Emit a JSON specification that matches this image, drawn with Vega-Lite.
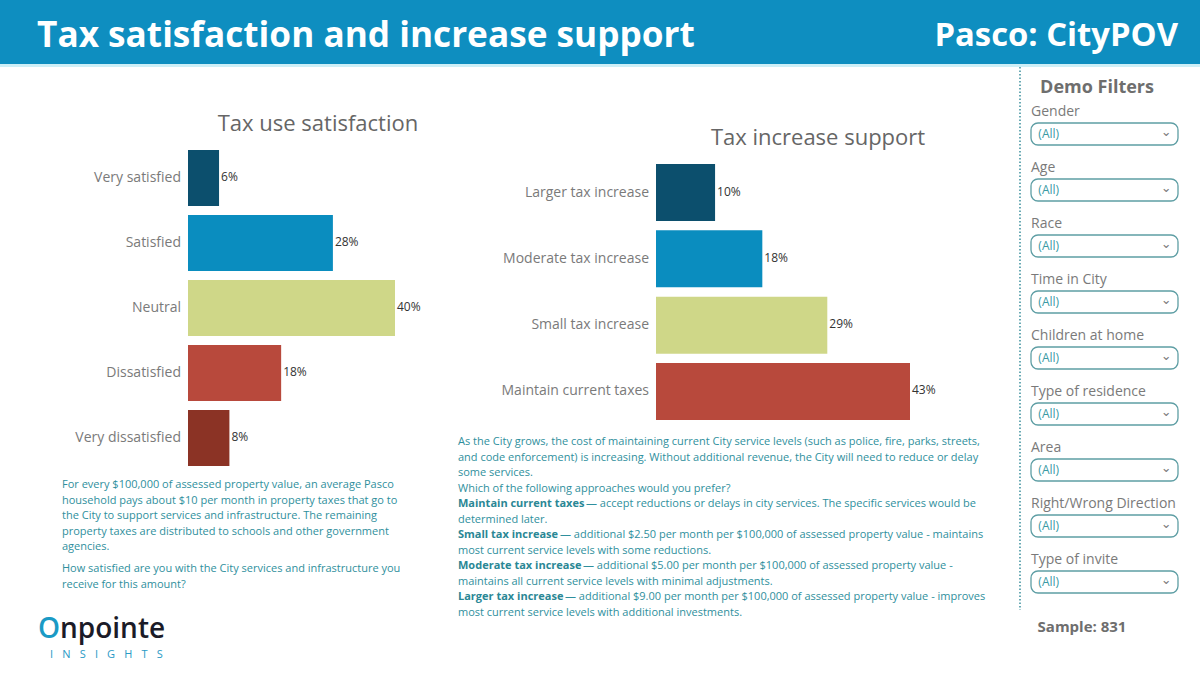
{
  "$schema": "https://vega.github.io/schema/vega-lite/v6.json",
  "width": 1200,
  "height": 674,
  "autosize": "none",
  "padding": 0,
  "background": "white",
  "config": {"view": {"stroke": null}, "font": "Open Sans", "text": {"font": "Open Sans"}},
  "resolve": {"scale": {"x": "independent", "y": "independent", "color": "independent"}},
  "layer": [
    {
      "data": {"values": [{"band": "header"}]},
      "mark": {"type": "rect", "color": "#0e8ec0"},
      "encoding": {"y": {"field": "band", "type": "nominal", "scale": {"range": [0, 64], "paddingInner": 0, "paddingOuter": 0}, "axis": null}}
    },
    {
      "data": {"values": [{"band": "underline"}]},
      "mark": {"type": "rect", "color": "#cdeff7"},
      "encoding": {"y": {"field": "band", "type": "nominal", "scale": {"range": [64, 67], "paddingInner": 0, "paddingOuter": 0}, "axis": null}}
    },
    {
      "data": {"values": [{"side": "left", "label": "Tax satisfaction and increase support"}]},
      "mark": {"type": "text", "color": "white", "fontWeight": "bold", "fontSize": 35.2, "align": "left", "baseline": "alphabetic"},
      "encoding": {
        "x": {"field": "side", "type": "nominal", "scale": {"type": "point", "range": [37, 37], "padding": 0}, "axis": null},
        "y": {"field": "side", "type": "nominal", "scale": {"type": "point", "range": [47, 47], "padding": 0}, "axis": null},
        "text": {"field": "label"}
      }
    },
    {
      "data": {"values": [{"side": "right", "label": "Pasco: CityPOV"}]},
      "mark": {"type": "text", "color": "white", "fontWeight": "bold", "fontSize": 32.8, "align": "right", "baseline": "alphabetic"},
      "encoding": {
        "x": {"field": "side", "type": "nominal", "scale": {"type": "point", "range": [1178, 1178], "padding": 0}, "axis": null},
        "y": {"field": "side", "type": "nominal", "scale": {"type": "point", "range": [46, 46], "padding": 0}, "axis": null},
        "text": {"field": "label"}
      }
    },
    {
      "data": {"values": [{"chart": "Tax use satisfaction"}, {"chart": "Tax increase support"}]},
      "mark": {"type": "text", "color": "#666666", "fontSize": 22, "align": "center", "baseline": "alphabetic"},
      "encoding": {
        "x": {"field": "chart", "type": "nominal", "sort": null, "scale": {"type": "point", "range": [318, 818], "padding": 0}, "axis": null},
        "y": {"field": "chart", "type": "nominal", "sort": null, "scale": {"type": "point", "range": [131, 145], "padding": 0}, "axis": null},
        "text": {"field": "chart"}
      }
    },
    {
      "data": {"values": [
        {"rating": "Very satisfied", "share": 0.06},
        {"rating": "Satisfied", "share": 0.28},
        {"rating": "Neutral", "share": 0.40},
        {"rating": "Dissatisfied", "share": 0.18},
        {"rating": "Very dissatisfied", "share": 0.08}
      ]},
      "encoding": {
        "y": {"field": "rating", "type": "nominal", "sort": null, "scale": {"range": [145.5, 470.5], "paddingInner": 0.14, "paddingOuter": 0.07}, "axis": null}
      },
      "layer": [
        {
          "mark": {"type": "bar"},
          "encoding": {
            "x": {"field": "share", "type": "quantitative", "scale": {"domain": [0, 0.4], "range": [188, 395], "nice": false}, "axis": null},
            "color": {"field": "rating", "type": "nominal", "scale": {"domain": ["Very satisfied", "Satisfied", "Neutral", "Dissatisfied", "Very dissatisfied"], "range": ["#0c4f6d", "#0a8dbf", "#cfd788", "#b8493c", "#8b3325"]}, "legend": null}
          }
        },
        {
          "mark": {"type": "text", "align": "left", "dx": 2, "dy": -1, "fontSize": 12, "color": "#333333", "baseline": "middle"},
          "encoding": {
            "x": {"field": "share", "type": "quantitative"},
            "text": {"field": "share", "type": "quantitative", "format": ".0%"}
          }
        },
        {
          "mark": {"type": "text", "align": "right", "dx": -7, "fontSize": 14, "color": "#7a7a7a", "baseline": "middle"},
          "encoding": {
            "x": {"datum": 0, "type": "quantitative"},
            "text": {"field": "rating"}
          }
        }
      ]
    },
    {
      "data": {"values": [
        {"approach": "Larger tax increase", "share": 0.10},
        {"approach": "Moderate tax increase", "share": 0.18},
        {"approach": "Small tax increase", "share": 0.29},
        {"approach": "Maintain current taxes", "share": 0.43}
      ]},
      "encoding": {
        "y": {"field": "approach", "type": "nominal", "sort": null, "scale": {"range": [159.4, 424.6], "paddingInner": 0.14, "paddingOuter": 0.07}, "axis": null}
      },
      "layer": [
        {
          "mark": {"type": "bar"},
          "encoding": {
            "x": {"field": "share", "type": "quantitative", "scale": {"domain": [0, 0.43], "range": [656, 910], "nice": false}, "axis": null},
            "color": {"field": "approach", "type": "nominal", "scale": {"domain": ["Larger tax increase", "Moderate tax increase", "Small tax increase", "Maintain current taxes"], "range": ["#0c4f6d", "#0a8dbf", "#cfd788", "#b8493c"]}, "legend": null}
          }
        },
        {
          "mark": {"type": "text", "align": "left", "dx": 2, "dy": -1, "fontSize": 12, "color": "#333333", "baseline": "middle"},
          "encoding": {
            "x": {"field": "share", "type": "quantitative"},
            "text": {"field": "share", "type": "quantitative", "format": ".0%"}
          }
        },
        {
          "mark": {"type": "text", "align": "right", "dx": -7, "fontSize": 14, "color": "#7a7a7a", "baseline": "middle"},
          "encoding": {
            "x": {"datum": 0, "type": "quantitative"},
            "text": {"field": "approach"}
          }
        }
      ]
    },
    {
      "data": {"values": [
        {"chart": "Tax use satisfaction", "line": 1, "text": "For every $100,000 of assessed property value, an average Pasco"},
        {"chart": "Tax use satisfaction", "line": 2, "text": "household pays about $10 per month in property taxes that go to"},
        {"chart": "Tax use satisfaction", "line": 3, "text": "the City to support services and infrastructure. The remaining"},
        {"chart": "Tax use satisfaction", "line": 4, "text": "property taxes are distributed to schools and other government"},
        {"chart": "Tax use satisfaction", "line": 5, "text": "agencies."}
      ]},
      "mark": {"type": "text", "align": "left", "baseline": "middle", "fontSize": 11, "color": "#2f8f9d"},
      "encoding": {
        "x": {"field": "chart", "type": "nominal", "scale": {"type": "point", "range": [62, 62], "padding": 0}, "axis": null},
        "y": {"field": "line", "type": "ordinal", "scale": {"type": "point", "range": [485, 547], "padding": 0}, "axis": null},
        "text": {"field": "text"}
      }
    },
    {
      "data": {"values": [
        {"chart": "Tax use satisfaction", "line": 1, "text": "How satisfied are you with the City services and infrastructure you"},
        {"chart": "Tax use satisfaction", "line": 2, "text": "receive for this amount?"}
      ]},
      "mark": {"type": "text", "align": "left", "baseline": "middle", "fontSize": 11, "color": "#2f8f9d"},
      "encoding": {
        "x": {"field": "chart", "type": "nominal", "scale": {"type": "point", "range": [62, 62], "padding": 0}, "axis": null},
        "y": {"field": "line", "type": "ordinal", "scale": {"type": "point", "range": [569, 584.5], "padding": 0}, "axis": null},
        "text": {"field": "text"}
      }
    },
    {
      "data": {"values": [
        {"chart": "Tax increase support", "line": 1, "lead": "", "text": "As the City grows, the cost of maintaining current City service levels (such as police, fire, parks, streets,"},
        {"chart": "Tax increase support", "line": 2, "lead": "", "text": "and code enforcement) is increasing. Without additional revenue, the City will need to reduce or delay"},
        {"chart": "Tax increase support", "line": 3, "lead": "", "text": "some services."},
        {"chart": "Tax increase support", "line": 4, "lead": "", "text": "Which of the following approaches would you prefer?"},
        {"chart": "Tax increase support", "line": 5, "lead": "Maintain current taxes", "text": "— accept reductions or delays in city services. The specific services would be"},
        {"chart": "Tax increase support", "line": 6, "lead": "", "text": "determined later."},
        {"chart": "Tax increase support", "line": 7, "lead": "Small tax increase", "text": "— additional $2.50 per month per $100,000 of assessed property value - maintains"},
        {"chart": "Tax increase support", "line": 8, "lead": "", "text": "most current service levels with some reductions."},
        {"chart": "Tax increase support", "line": 9, "lead": "Moderate tax increase", "text": "— additional $5.00 per month per $100,000 of assessed property value -"},
        {"chart": "Tax increase support", "line": 10, "lead": "", "text": "maintains all current service levels with minimal adjustments."},
        {"chart": "Tax increase support", "line": 11, "lead": "Larger tax increase", "text": "— additional $9.00 per month per $100,000 of assessed property value - improves"},
        {"chart": "Tax increase support", "line": 12, "lead": "", "text": "most current service levels with additional investments."}
      ]},
      "encoding": {
        "x": {"field": "chart", "type": "nominal", "scale": {"type": "point", "range": [458, 458], "padding": 0}, "axis": null},
        "y": {"field": "line", "type": "ordinal", "scale": {"type": "point", "range": [442, 613], "padding": 0}, "axis": null}
      },
      "layer": [
        {
          "mark": {"type": "text", "align": "left", "baseline": "middle", "fontSize": 11, "color": "#2f8f9d", "dx": {"expr": "datum.lead == 'Maintain current taxes' ? 128 : datum.lead == 'Small tax increase' ? 102 : datum.lead == 'Moderate tax increase' ? 125 : datum.lead == 'Larger tax increase' ? 107 : 0"}},
          "encoding": {"text": {"field": "text"}}
        },
        {
          "transform": [{"filter": "datum.lead != ''"}],
          "mark": {"type": "text", "align": "left", "baseline": "middle", "fontSize": 11, "fontWeight": "bold", "color": "#2a8795"},
          "encoding": {"text": {"field": "lead"}}
        }
      ]
    },
    {
      "data": {"values": [{"part": "divider", "end": "top"}, {"part": "divider", "end": "bottom"}]},
      "mark": {"type": "line", "color": "#3a8f9c", "strokeWidth": 1.5, "strokeDash": [1.5, 2]},
      "encoding": {
        "x": {"field": "part", "type": "nominal", "scale": {"type": "point", "range": [1020, 1020], "padding": 0}, "axis": null},
        "y": {"field": "end", "type": "nominal", "scale": {"type": "point", "domain": ["top", "bottom"], "range": [67, 610], "padding": 0}, "axis": null}
      }
    },
    {
      "data": {"values": [{"panel": "Demo Filters"}]},
      "mark": {"type": "text", "align": "center", "baseline": "middle", "fontSize": 18, "fontWeight": "bold", "color": "#6e6e6e"},
      "encoding": {
        "x": {"field": "panel", "type": "nominal", "scale": {"type": "point", "range": [1097, 1097], "padding": 0}, "axis": null},
        "y": {"field": "panel", "type": "nominal", "scale": {"type": "point", "range": [88, 88], "padding": 0}, "axis": null},
        "text": {"field": "panel"}
      }
    },
    {
      "data": {"values": [{"sample": "Sample: 831"}]},
      "mark": {"type": "text", "align": "center", "baseline": "middle", "fontSize": 15, "fontWeight": "bold", "color": "#6e6e6e"},
      "encoding": {
        "x": {"field": "sample", "type": "nominal", "scale": {"type": "point", "range": [1082, 1082], "padding": 0}, "axis": null},
        "y": {"field": "sample", "type": "nominal", "scale": {"type": "point", "range": [627, 627], "padding": 0}, "axis": null},
        "text": {"field": "sample"}
      }
    },
    {
      "data": {"values": [
        {"filter": "Gender", "choice": "(All)"},
        {"filter": "Age", "choice": "(All)"},
        {"filter": "Race", "choice": "(All)"},
        {"filter": "Time in City", "choice": "(All)"},
        {"filter": "Children at home", "choice": "(All)"},
        {"filter": "Type of residence", "choice": "(All)"},
        {"filter": "Area", "choice": "(All)"},
        {"filter": "Right/Wrong Direction", "choice": "(All)"},
        {"filter": "Type of invite", "choice": "(All)"}
      ]},
      "encoding": {
        "y": {"field": "filter", "type": "nominal", "sort": null, "scale": {"range": [123, 593], "paddingInner": 0.607, "paddingOuter": 0}, "axis": null},
        "x": {"field": "choice", "type": "nominal", "scale": {"range": [1031, 1178], "paddingInner": 0, "paddingOuter": 0}, "axis": null}
      },
      "layer": [
        {"mark": {"type": "rect", "fill": "white", "stroke": "#5e9ea4", "strokeWidth": 1.3, "cornerRadius": 7}},
        {
          "mark": {"type": "text", "align": "left", "baseline": "middle", "fontSize": 12, "color": "#3a9aa5"},
          "encoding": {
            "x": {"field": "choice", "type": "nominal", "bandPosition": 0.05},
            "text": {"field": "choice"}
          }
        },
        {
          "mark": {"type": "text", "align": "center", "baseline": "middle", "fontSize": 13, "dy": -2, "color": "#7a7a7a", "font": "DejaVu Sans"},
          "encoding": {
            "x": {"field": "choice", "type": "nominal", "bandPosition": 0.92},
            "text": {"value": "⌄"}
          }
        },
        {
          "mark": {"type": "text", "align": "left", "baseline": "middle", "fontSize": 14, "color": "#7a7a7a"},
          "encoding": {
            "x": {"field": "choice", "type": "nominal", "bandPosition": 0},
            "y": {"field": "filter", "type": "nominal", "sort": null, "bandPosition": -0.5},
            "text": {"field": "filter"}
          }
        }
      ]
    },
    {
      "data": {"values": [{"piece": "O"}, {"piece": "npointe"}]},
      "mark": {"type": "text", "align": "left", "baseline": "alphabetic", "fontSize": 28, "fontWeight": 600},
      "encoding": {
        "x": {"field": "piece", "type": "nominal", "sort": null, "scale": {"type": "point", "range": [38, 60], "padding": 0}, "axis": null},
        "y": {"field": "piece", "type": "nominal", "scale": {"type": "point", "range": [638, 638], "padding": 0}, "axis": null},
        "color": {"field": "piece", "type": "nominal", "sort": null, "scale": {"range": ["#1a9ac5", "#1b1b28"]}, "legend": null},
        "text": {"field": "piece"}
      }
    },
    {
      "data": {"values": [{"brand": "I\u2002\u2004N\u2002\u2004S\u2002\u2004I\u2002\u2004G\u2002\u2004H\u2002\u2004T\u2002\u2004S"}]},
      "mark": {"type": "text", "align": "left", "baseline": "alphabetic", "fontSize": 11, "color": "#2a9ac5"},
      "encoding": {
        "x": {"field": "brand", "type": "nominal", "scale": {"type": "point", "range": [50, 50], "padding": 0}, "axis": null},
        "y": {"field": "brand", "type": "nominal", "scale": {"type": "point", "range": [658, 658], "padding": 0}, "axis": null},
        "text": {"field": "brand"}
      }
    }
  ]
}
